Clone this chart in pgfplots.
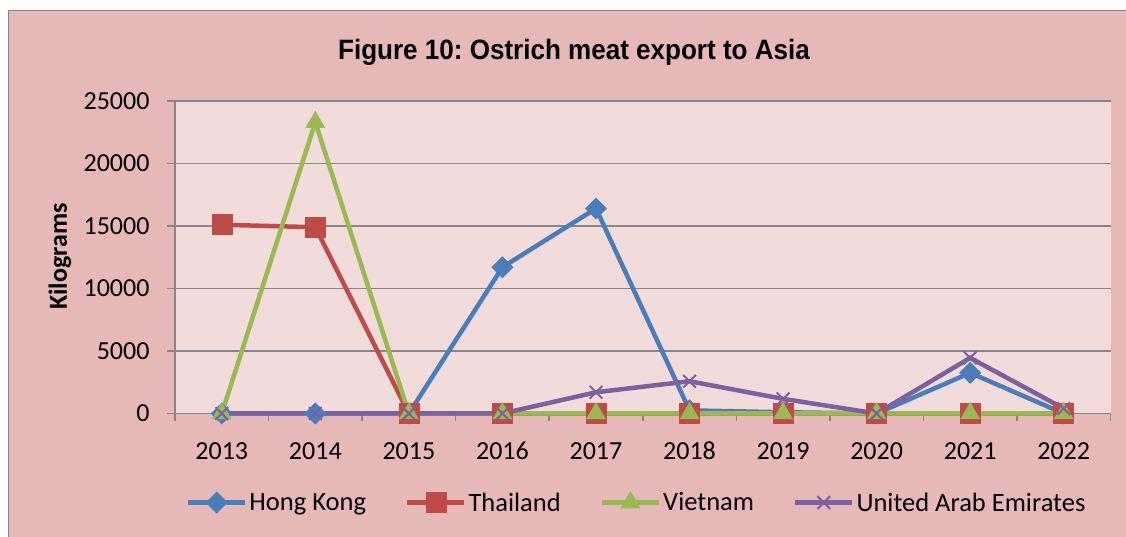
\documentclass[border=0pt]{standalone}
\usepackage{fontspec}
\setmainfont{Carlito}
\newfontfamily\titlefont{Liberation Sans}
\usepackage{pgfplots}
\pgfplotsset{compat=1.18}
\usetikzlibrary{backgrounds,calc}
\definecolor{outerpink}{HTML}{E6B9B8}
\definecolor{innerpink}{HTML}{F2DCDB}
\definecolor{gridgray}{HTML}{868686}
\definecolor{hkblue}{HTML}{4A7EBB}
\definecolor{thred}{HTML}{BE4B48}
\definecolor{vngreen}{HTML}{98B954}
\definecolor{uaepurple}{HTML}{7D60A0}
\frenchspacing
\begin{document}
\begin{tikzpicture}[x=1pt,y=1pt]
\begin{axis}[
  name=ax,
  at={(175,123.5)}, anchor=south west,
  scale only axis, width=935.5pt, height=312.5pt,
  xmin=-0.5, xmax=9.5, ymin=0, ymax=25000,
  axis x line*=bottom, axis y line*=left,
  axis line style={draw=gridgray, line width=1.5pt, -},
  axis background/.style={fill=innerpink},
  ytick={0,5000,10000,15000,20000,25000},
  ymajorgrids, major grid style={draw=gridgray, line width=1.5pt},
  xtick={-0.5,0.5,1.5,2.5,3.5,4.5,5.5,6.5,7.5,8.5,9.5},
  xticklabels={},
  extra x ticks={0,1,2,3,4,5,6,7,8,9},
  extra x tick labels={2013,2014,2015,2016,2017,2018,2019,2020,2021,2022},
  extra x tick style={major tick length=0pt, grid=none},
  tick align=outside, major tick length=8pt,
  tick style={draw=gridgray, line width=1.5pt},
  ticklabel style={font=\fontsize{26}{30}\selectfont},
  yticklabel style={xshift=-14pt},
  xticklabel style={yshift=-25pt, text height=17pt, text depth=0pt},
  /pgf/number format/assume math mode=true,
  /pgf/number format/set thousands separator={},
  scaled y ticks=false,
  clip=false,
  legend style={at={(0.4935,-0.285)}, anchor=center, legend columns=4, draw=none, fill=none,
    font=\fontsize{26.5}{30}\selectfont,
    /tikz/every odd column/.append style={column sep=0pt},
    /tikz/every even column/.append style={column sep=37pt}},
  legend image code/.code={\draw[mark repeat=2,mark phase=2] plot coordinates {(0pt,0pt) (28.5pt,0pt) (57pt,0pt)};},
  every axis plot/.append style={line width=4.5pt},
]
\addplot[color=hkblue, mark=square*, mark size=7.5pt, mark options={rotate=45, line width=0.5pt}] coordinates {
(0,0) (1,0) (2,0) (3,11700) (4,16400) (5,250) (6,100) (7,0) (8,3250) (9,0)};
\addlegendentry{Hong Kong}
\addplot[color=thred, mark=square*, mark size=10pt, mark options={line width=0.5pt}] coordinates {
(0,15100) (1,14900) (2,0) (3,0) (4,0) (5,0) (6,0) (7,0) (8,0) (9,0)};
\addlegendentry{Thailand}
\addplot[color=vngreen, mark=triangle*, mark size=11pt, mark options={line width=0.5pt}] coordinates {
(0,0) (1,23300) (2,0) (3,0) (4,0) (5,0) (6,0) (7,0) (8,0) (9,0)};
\addlegendentry{Vietnam}
\addplot[color=uaepurple, mark=x, mark size=9pt, mark options={line width=2pt}] coordinates {
(0,0) (1,0) (2,0) (3,0) (4,1700) (5,2580) (6,1170) (7,0) (8,4450) (9,400)};
\addlegendentry{United Arab Emirates}
\end{axis}
\coordinate (O) at ($(ax.south west)+(-175,-123.5)$);
\begin{scope}[shift={(O)}]
\node[anchor=base, font=\titlefont\bfseries\fontsize{28}{32}\selectfont] at (574,477.7) {\scalebox{0.93}[1]{Figure 10: Ostrich meat export to Asia}};
\node[rotate=90, font=\bfseries\fontsize{26}{30}\selectfont] at (60,280.5) {Kilograms};
\begin{scope}[on background layer]
\fill[white] (0,0) rectangle (1126,537);
\fill[outerpink] (8.3,0) rectangle (1126,526.5);
\draw[gridgray, line width=1.5pt] (8.3,0) -- (8.3,526.5) -- (1126,526.5);
\end{scope}
\pgfresetboundingbox
\path[use as bounding box] (0,0) rectangle (1126,537);
\end{scope}
\end{tikzpicture}
\end{document}
